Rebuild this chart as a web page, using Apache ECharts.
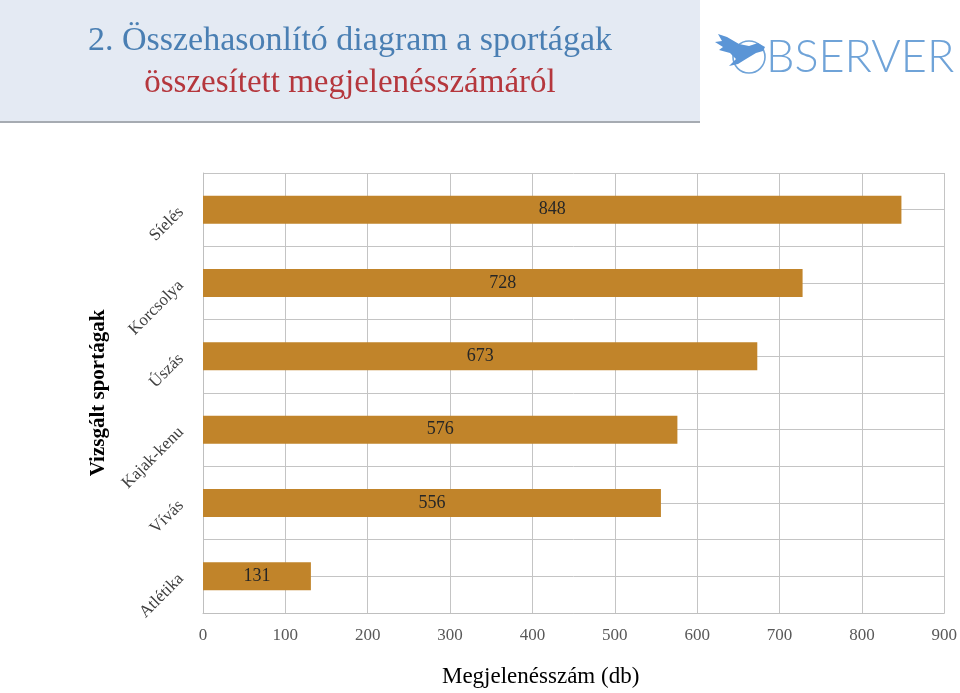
<!DOCTYPE html>
<html><head><meta charset="utf-8">
<script src="https://cdn.jsdelivr.net/npm/echarts@6/dist/echarts.min.js"></script>
<style>html,body{margin:0;padding:0;background:#fff}#c{width:960px;height:693px}</style>
</head><body><div id="c"></div>
<script>
const categories = ['Atlétika','Vívás','Kajak-kenu','Úszás','Korcsolya','Síelés'];
const values = [131,556,576,673,728,848];
const xTicks = [0,100,200,300,400,500,600,700,800,900];
const titleLine1 = '2. Összehasonlító diagram a sportágak';
const titleLine2 = 'összesített megjelenésszámáról';

const serif = '"Liberation Serif", "DejaVu Serif", serif';
const chart = echarts.init(document.getElementById('c'));
chart.setOption({
  animation: false,
  backgroundColor: '#fff',
  grid: {left: 203, right: 15, top: 173, bottom: 75},
  xAxis: {
    type: 'value', min: xTicks[0], max: xTicks[xTicks.length-1], interval: 100,
    axisLine: {show: true, lineStyle: {color: '#bfbfbf'}},
    axisTick: {show: false},
    axisLabel: {color: '#595959', fontFamily: serif, fontSize: 17, margin: 14},
    splitLine: {show: true, lineStyle: {color: '#c4c4c4', width: 1}},
    name: 'Megjelenésszám (db)', nameLocation: 'middle', nameGap: 52,
    nameTextStyle: {color: '#000', fontFamily: serif, fontSize: 23, padding: [0, 66, 0, 0]}
  },
  yAxis: [{
    type: 'category', data: categories,
    axisLine: {show: true, lineStyle: {color: '#bfbfbf'}},
    axisTick: {show: false},
    axisLabel: {color: '#404040', fontFamily: serif, fontSize: 17, rotate: 45, margin: 22},
    splitLine: {show: false},
    name: 'Vizsgált sportágak', nameLocation: 'middle', nameGap: 79, nameRotate: 90,
    nameTextStyle: {color: '#000', fontFamily: serif, fontSize: 21, fontWeight: 'bold'}
  }, {
    type: 'value', min: 0, max: 12, interval: 1, position: 'right',
    axisLine: {show: false}, axisTick: {show: false}, axisLabel: {show: false},
    splitLine: {show: true, lineStyle: {color: '#c4c4c4', width: 1}}
  }],
  series: [{
    type: 'bar', data: values, yAxisIndex: 0, barWidth: 28,
    itemStyle: {color: '#c1842a'},
    label: {show: true, position: 'inside', color: '#262626', fontFamily: serif, fontSize: 18},
    z: 3
  }],
  graphic: [
    {type: 'rect', shape: {x: 0, y: 0, width: 700, height: 122}, style: {fill: '#e4eaf3'}, z: 0},
    {type: 'rect', shape: {x: 0, y: 121, width: 700, height: 2}, style: {fill: '#a6abb2'}, z: 0},
    {type: 'text', x: 350, y: 41, style: {text: titleLine1, fill: '#4a7fb3', font: '34px ' + serif, align: 'center', verticalAlign: 'middle'}, z: 1},
    {type: 'text', x: 350, y: 83, style: {text: titleLine2, fill: '#b5373d', font: '33px ' + serif, align: 'center', verticalAlign: 'middle'}, z: 1},
    {type: 'circle', shape: {cx: 749, cy: 57, r: 16}, style: {fill: 'none', stroke: '#6fa3d8', lineWidth: 1.6}, z: 1},
    {type: 'polygon', shape: {points: [[765,47],[758,43],[749,46],[739,44],[727,37],[718,34],[722,41],[715,42],[723,47],[719,50],[730,53],[736,59],[729,66],[738,64],[746,59],[756,53],[763,51]]}, style: {fill: '#5b95d6'}, z: 2},
    {type: 'text', x: 766, y: 57, style: {text: 'BSERVER', fill: '#6fa3d8', font: '300 45px Lato, "Open Sans", sans-serif', align: 'left', verticalAlign: 'middle'}, z: 1}
  ]
});
</script></body></html>
